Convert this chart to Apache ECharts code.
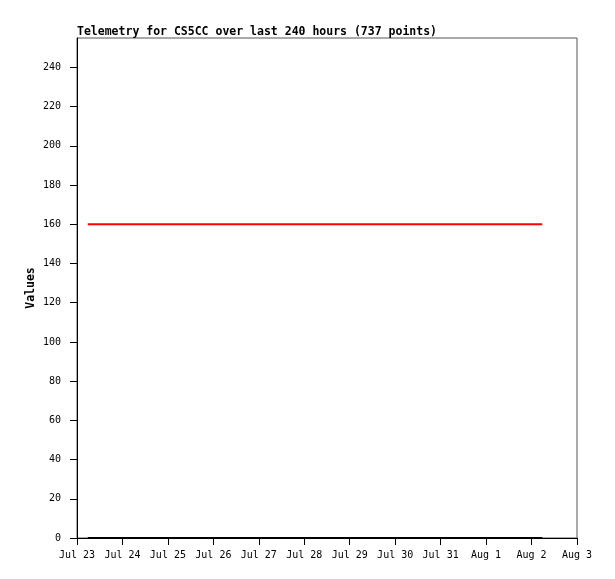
<!DOCTYPE html>
<html>
<head>
<meta charset="utf-8">
<script src="https://cdn.jsdelivr.net/npm/echarts@6/dist/echarts.min.js"></script>
<style>html,body{margin:0;padding:0;background:#fff}#c{width:615px;height:579px}</style>
</head>
<body>
<div id="c"></div>
<script>
const titleText = "Telemetry for CS5CC over last 240 hours (737 points)";
const monthNames = ["Jan","Feb","Mar","Apr","May","Jun","Jul","Aug","Sep","Oct","Nov","Dec"];
// time stamps (UTC) of first and last sample
const sampleTimes = [Date.UTC(2024, 6, 23, 5, 40), Date.UTC(2024, 7, 2, 5, 40)];
const redValues = [160, 160];
const blackValues = [0, 0];
const xMin = Date.UTC(2024, 6, 23);
const xMax = Date.UTC(2024, 7, 3);
const dayMs = 86400000;

const chart = echarts.init(document.getElementById('c'), null, {renderer: 'canvas'});
const font = "'DejaVu Sans Mono', 'Liberation Mono', monospace";
chart.setOption({
  animation: false,
  backgroundColor: '#fff',
  title: {
    text: titleText, left: 72, top: 21,
    textStyle: {fontFamily: font, fontSize: 11.5, fontWeight: 'bold', color: '#000'}
  },
  grid: {left: 77, right: 38, top: 38, bottom: 41, show: true, borderColor: '#555', borderWidth: 1, backgroundColor: '#fff'},
  xAxis: {
    type: 'value', min: xMin, max: xMax, interval: dayMs,
    axisLine: {show: true, lineStyle: {color: '#000', width: 1}},
    axisTick: {show: true, length: 7, lineStyle: {color: '#000'}},
    splitLine: {show: false},
    axisLabel: {
      fontFamily: font, fontSize: 10, color: '#000', margin: 12,
      showMinLabel: true, showMaxLabel: true,
      formatter: v => { const d = new Date(v); return monthNames[d.getUTCMonth()] + ' ' + d.getUTCDate(); }
    }
  },
  yAxis: {
    type: 'value', min: 0, max: 255, interval: 20,
    name: 'Values', nameLocation: 'middle', nameGap: 40, nameMoveOverlap: false,
    nameTextStyle: {fontFamily: font, fontSize: 11.5, fontWeight: 'bold', color: '#000'},
    axisLine: {show: true, lineStyle: {color: '#000', width: 1}},
    axisTick: {show: true, length: 7, lineStyle: {color: '#000'}},
    splitLine: {show: false},
    axisLabel: {fontFamily: font, fontSize: 10, color: '#000', margin: 16, showMaxLabel: false}
  },
  series: [
    {type: 'line', data: sampleTimes.map((t, i) => [t, redValues[i]]), showSymbol: false, lineStyle: {color: '#ff0000', width: 2}, itemStyle: {color: '#ff0000'}},
    {type: 'line', data: sampleTimes.map((t, i) => [t, blackValues[i]]), showSymbol: false, lineStyle: {color: '#000', width: 2}, itemStyle: {color: '#000'}}
  ]
});
</script>
</body>
</html>
